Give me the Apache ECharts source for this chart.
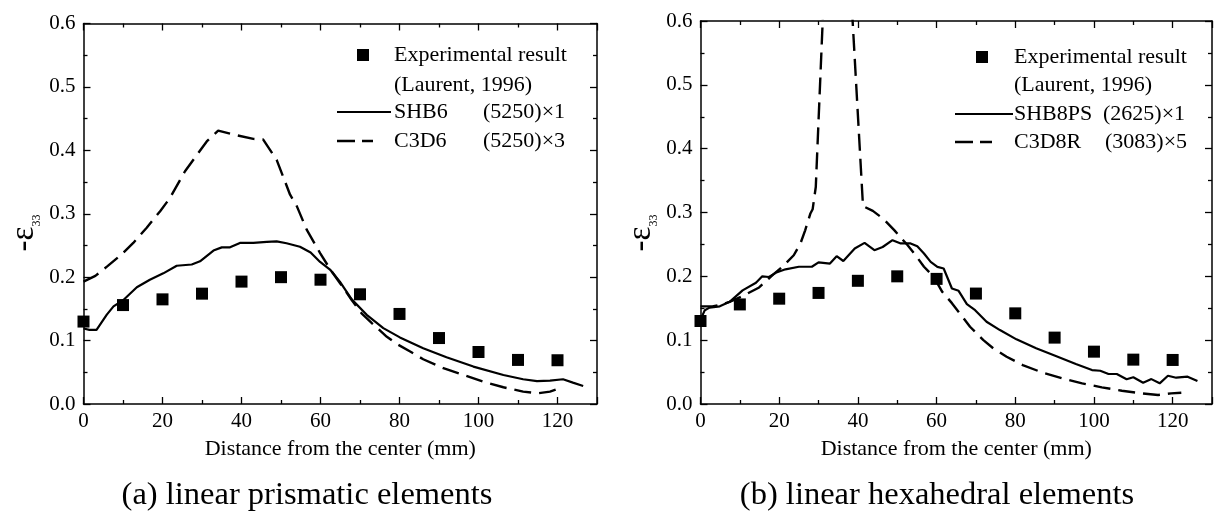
<!DOCTYPE html>
<html>
<head>
<meta charset="utf-8">
<script src="https://cdn.jsdelivr.net/npm/echarts@6/dist/echarts.min.js"></script>
<style>
  html, body { margin: 0; padding: 0; background: #fff; }
  #chart { width: 1215px; height: 513px; }
</style>
</head>
<body>
<div id="chart"></div>
<script>
// Measured strain profiles -eps33 along the distance from the center (mm)

// Experimental points (Laurent, 1996) - same in both panels
const expX = [0, 10, 20, 30, 40, 50, 60, 70, 80, 90, 100, 110, 120];
const expY = [0.130, 0.156, 0.165, 0.174, 0.193, 0.200, 0.196, 0.173, 0.142, 0.104, 0.082, 0.0695, 0.069];

// Panel (a): linear prismatic elements
const shb6 = [[0,0.119],[1.5,0.117],[3.3,0.117],[5.9,0.141],[7.6,0.154],[10.1,0.164],[13.5,0.184],[16.8,0.196],
  [20.2,0.206],[23.6,0.218],[27.4,0.220],[29.5,0.225],[32.9,0.242],[35,0.247],[37.1,0.247],[39.6,0.254],[43,0.254],
  [46.4,0.2555],[48.9,0.2565],[51.4,0.2535],[54.8,0.248],[57.5,0.239],[59.9,0.224],[62.4,0.212],[64.9,0.193],
  [67.9,0.165],[71.7,0.1406],[75.9,0.1196],[80.1,0.105],[86,0.088],[91.9,0.0738],[98.7,0.059],[106.3,0.0458],
  [111.3,0.039],[114.8,0.036],[118.1,0.037],[121.4,0.039],[123.9,0.0337],[126.5,0.0284]];
const c3d6 = [[0,0.193],[3,0.202],[6,0.217],[9.5,0.235],[12.6,0.254],[16,0.278],[19.4,0.304],[21.9,0.325],
  [25.7,0.367],[31.2,0.414],[34.1,0.431],[37.9,0.425],[43,0.418],[45.5,0.417],[48.9,0.385],[52.3,0.33],[54,0.312],
  [56.5,0.275],[59.9,0.238],[62.4,0.213],[65,0.19],[67.9,0.164],[70.4,0.143],[73,0.1275],[76.8,0.106],[79.3,0.0948],
  [82.7,0.0827],[86,0.0706],[91.1,0.0564],[96.2,0.0458],[101.2,0.0352],[106.3,0.0264],[111.3,0.0195],[115.1,0.0169],
  [118.1,0.0195],[120.6,0.0248]];

// Panel (b): linear hexahedral elements
const shb8ps = [[0,0.132],[1.1,0.147],[2.3,0.151],[4.9,0.153],[7.4,0.160],[10.7,0.178],[14.1,0.190],[15.7,0.200],
  [17.4,0.199],[19.1,0.2055],[21.6,0.211],[25,0.215],[28.3,0.215],[30,0.222],[32.9,0.220],[34.6,0.2316],[36.3,0.224],
  [39.2,0.2437],[41.7,0.2524],[44.2,0.241],[46.3,0.246],[48.8,0.2566],[50.9,0.2515],[53.4,0.2515],[55.1,0.247],
  [56.8,0.2358],[58.5,0.2227],[60.2,0.2149],[61.8,0.2123],[63.9,0.181],[65.6,0.1773],[67.7,0.1565],[69.8,0.147],
  [72.7,0.1288],[76.1,0.1158],[80.3,0.1013],[85.3,0.0872],[90.3,0.0751],[95.4,0.0626],[99.5,0.0532],[101.6,0.0521],
  [103.7,0.047],[105.8,0.047],[108.3,0.0387],[110,0.0418],[112.5,0.0334],[114.6,0.039],[116.7,0.0324],[118.8,0.0443],
  [120.9,0.0412],[123.8,0.0428],[126.3,0.036]];
const c3d8r = [[0,0.153],[3,0.153],[5,0.155],[7.4,0.160],[10.7,0.169],[14.9,0.1826],[18.3,0.2019],[20.8,0.215],
  [23.7,0.233],[25.4,0.2515],[26.6,0.272],[27.9,0.298],[28.5,0.305],[29.3,0.34],[34.3,1.08],[41.3,0.31],[43.8,0.3025],
  [46.5,0.29],[49.3,0.272],[52.6,0.249],[54.3,0.236],[56.8,0.215],[59.3,0.199],[61.4,0.176],[63.9,0.158],[66.9,0.134],
  [68.5,0.121],[71.9,0.1],[74.4,0.0872],[77.8,0.074],[81.9,0.061],[87,0.049],[92,0.0402],[97,0.0324],[102,0.0261],
  [107.1,0.0208],[112.1,0.0167],[116.3,0.0141],[119.6,0.0167],[122.2,0.0177]];

const xTitle = 'Distance from the center (mm)';
const captions = ['(a) linear prismatic elements', '(b) linear hexahedral elements'];
const legendA = [['SHB6', '(5250)\u00d71'], ['C3D6', '(5250)\u00d73']];
const legendB = [['SHB8PS', '(2625)\u00d71'], ['C3D8R', '(3083)\u00d75']];

const FONT = '"Liberation Serif", "Times New Roman", serif';
const INK = '#000';
const DASH = [17, 8];

const expData = expX.map((x, i) => [x, expY[i]]);

function xAxes(g) {
  const base = {
    type: 'value', gridIndex: g, min: 0, max: 130, interval: 20,
    axisLine: { show: true, onZero: false, lineStyle: { color: INK, width: 1.5 } },
    axisTick: { show: true, inside: true, length: 7, lineStyle: { color: INK, width: 1.3 } },
    minorTick: { show: true, splitNumber: 2, length: 4, lineStyle: { color: INK, width: 1.3 } },
    splitLine: { show: false }, minorSplitLine: { show: false }
  };
  return [
    Object.assign({}, base, {
      position: 'bottom',
      axisLabel: { color: INK, fontFamily: FONT, fontSize: 21, margin: 7,
        formatter: v => (v > 120 ? '' : String(v)) },
      name: xTitle, nameLocation: 'middle', nameGap: 34,
      nameTextStyle: { color: INK, fontFamily: FONT, fontSize: 22 }
    }),
    Object.assign({}, base, { position: 'top', axisLabel: { show: false } })
  ];
}

function yAxes(g) {
  const base = {
    type: 'value', gridIndex: g, min: 0, max: 0.6, interval: 0.1,
    axisLine: { show: true, onZero: false, lineStyle: { color: INK, width: 1.5 } },
    axisTick: { show: true, inside: true, length: 7, lineStyle: { color: INK, width: 1.3 } },
    minorTick: { show: true, splitNumber: 2, length: 4, lineStyle: { color: INK, width: 1.3 } },
    splitLine: { show: false }, minorSplitLine: { show: false }
  };
  return [
    Object.assign({}, base, {
      position: 'left',
      axisLabel: { color: INK, fontFamily: FONT, fontSize: 21, margin: 8, formatter: v => v.toFixed(1) }
    }),
    Object.assign({}, base, { position: 'right', axisLabel: { show: false } })
  ];
}

function seriesFor(g, solid, dashed) {
  const xi = g * 2, yi = g * 2;
  return [
    { type: 'line', xAxisIndex: xi, yAxisIndex: yi, data: dashed, showSymbol: false, symbol: 'none',
      lineStyle: { color: INK, width: 2.4, type: DASH }, z: 2 },
    { type: 'line', xAxisIndex: xi, yAxisIndex: yi, data: solid, showSymbol: false, symbol: 'none',
      lineStyle: { color: INK, width: 2.2 }, z: 3 },
    { type: 'scatter', xAxisIndex: xi, yAxisIndex: yi, data: expData, symbol: 'rect', symbolSize: 12,
      itemStyle: { color: INK, opacity: 1 }, z: 4 }
  ];
}

function txt(x, y, s, size, align) {
  return { type: 'text', x: x, y: y, silent: true,
    style: { text: s, fill: INK, font: size + 'px ' + FONT, align: align || 'left', verticalAlign: 'middle' } };
}

function legendGraphics(sqX, sqY, lineX0, lineX1, dashX1, textX, colX, rowY, names) {
  return [
    { type: 'rect', shape: { x: sqX - 6, y: sqY - 6, width: 12, height: 12 }, style: { fill: INK }, silent: true },
    txt(textX, rowY[0], 'Experimental result', 22),
    txt(textX, rowY[1], '(Laurent, 1996)', 22),
    { type: 'line', shape: { x1: lineX0, y1: rowY[2], x2: lineX1, y2: rowY[2] },
      style: { stroke: INK, lineWidth: 2.2 }, silent: true },
    txt(textX, rowY[2], names[0][0], 22),
    txt(colX[0], rowY[2], names[0][1], 22),
    { type: 'line', shape: { x1: lineX0, y1: rowY[3], x2: dashX1, y2: rowY[3] },
      style: { stroke: INK, lineWidth: 2.4, lineDash: [18, 7] }, silent: true },
    txt(textX, rowY[3], names[1][0], 22),
    txt(colX[1], rowY[3], names[1][1], 22)
  ];
}

function yName(x, y) {
  return { type: 'text', x: x, y: y, rotation: Math.PI / 2, silent: true,
    style: { text: '{a|-\u03b5}{b|33}', align: 'center', verticalAlign: 'middle',
      rich: {
        a: { fontFamily: FONT, fontSize: 33, fill: INK, verticalAlign: 'bottom' },
        b: { fontFamily: FONT, fontSize: 12, fill: INK, verticalAlign: 'bottom', padding: [0, 0, -2, 0] }
      } } };
}

const option = {
  animation: false,
  backgroundColor: '#fff',
  grid: [
    { left: 83.5, top: 23.5, width: 513.5, height: 380.5 },
    { left: 700.5, top: 21, width: 514, height: 383 }
  ],
  xAxis: xAxes(0).concat(xAxes(1)),
  yAxis: yAxes(0).concat(yAxes(1)),
  series: seriesFor(0, shb6, c3d6).concat(seriesFor(1, shb8ps, c3d8r)),
  graphic: [
    yName(24, 233),
    yName(641, 233),
    txt(307, 495, captions[0], 32.5, 'center'),
    txt(937, 495, captions[1], 32.5, 'center')
  ].concat(
    legendGraphics(363, 55, 337, 391, 373, 394, [483, 483], [55, 85, 112, 141], legendA),
    legendGraphics(982, 57, 955, 1013, 992, 1014, [1103, 1105], [57, 85, 114, 142], legendB)
  )
};

const chart = echarts.init(document.getElementById('chart'), null, { renderer: 'canvas' });
chart.setOption(option);
</script>
</body>
</html>
